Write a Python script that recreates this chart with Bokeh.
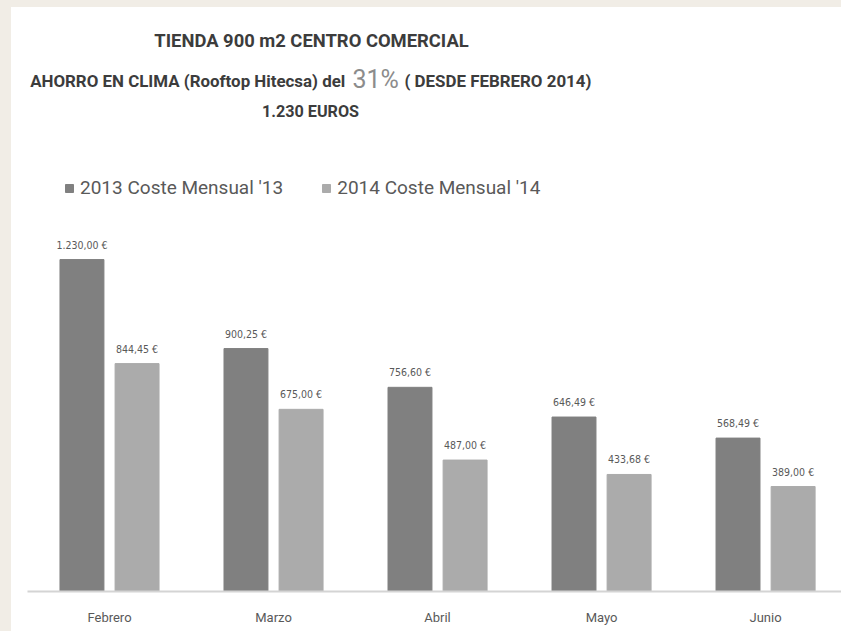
from bokeh.plotting import figure
from bokeh.models import Range1d, FixedTicker, Label, ColumnDataSource, Legend, LegendItem, Spacer
from bokeh.layouts import column, row
from bokeh.transform import dodge
from bokeh.core.properties import value
from bokeh.embed import file_html
from bokeh.resources import INLINE

months = ["Febrero", "Marzo", "Abril", "Mayo", "Junio"]
coste_2013 = [1230.00, 900.25, 756.60, 646.49, 568.49]
coste_2014 = [844.45, 675.00, 487.00, 433.68, 389.00]
series_names = ["2013 Coste Mensual '13", "2014 Coste Mensual '14"]

def eur(v):
    s = f"{v:,.2f}"
    s = s.replace(",", "X").replace(".", ",").replace("X", ".")
    return s + " \u20ac"

idx = list(range(len(months)))
src = ColumnDataSource(dict(
    x=idx, y13=coste_2013, y14=coste_2014,
    l13=[eur(v) for v in coste_2013], l14=[eur(v) for v in coste_2014],
))

FONT = "Roboto"
SMALLFONT = "DejaVu Sans Condensed"
DARK = "#808080"
LIGHT = "#ababab"
TXT = "#595959"
BEIGE = "#f1ede6"

p = figure(width=830, height=624, output_backend="svg", toolbar_location=None,
           x_range=Range1d(-0.5, 4.463), y_range=Range1d(0, 2164),
           y_axis_location=None, min_border_left=16, min_border_right=0,
           min_border_top=0, min_border_bottom=40)
p.outline_line_color = None
p.xgrid.visible = False
p.ygrid.visible = False
p.background_fill_color = "white"
p.border_fill_color = "white"

r13 = p.vbar(x=dodge("x", -0.168, range=p.x_range), top="y13", width=0.268, source=src,
             fill_color=DARK, line_color=DARK)
r14 = p.vbar(x=dodge("x", 0.168, range=p.x_range), top="y14", width=0.268, source=src,
             fill_color=LIGHT, line_color=LIGHT)

for col, ycol, off in (("l13", "y13", -0.168), ("l14", "y14", 0.168)):
    p.text(x=dodge("x", off, range=p.x_range), y=ycol, text=col, source=src,
           text_align="center", text_baseline="middle", y_offset=-15,
           text_font=value(SMALLFONT), text_font_size="10.5px", text_color=TXT)

ax = p.xaxis[0]
ax.ticker = FixedTicker(ticks=idx)
ax.major_label_overrides = {i: m for i, m in zip(idx, months)}
ax.major_tick_line_color = None
ax.minor_tick_line_color = None
ax.axis_line_color = "#d4d4d4"
ax.axis_line_width = 2
ax.major_label_standoff = 12
ax.major_label_text_font = FONT
ax.major_label_text_font_size = "13px"
ax.major_label_text_color = TXT

legend = Legend(items=[LegendItem(label=series_names[0], renderers=[r13]),
                       LegendItem(label=series_names[1], renderers=[r14])],
                orientation="horizontal", location=(37, 392),
                glyph_width=10, glyph_height=10, label_standoff=6, spacing=38,
                padding=0, margin=0, border_line_color=None, background_fill_alpha=0,
                label_text_font=FONT, label_text_font_size="19px", label_text_color=TXT)
p.add_layout(legend, "center")

TITLE = "#3c3c3c"
def lab(text, x, y, size, align="center", bold=True, color=TITLE):
    p.add_layout(Label(x=x, y=y, x_units="screen", y_units="screen", text=text,
                       text_font=FONT, text_font_size=size,
                       text_font_style="bold" if bold else "normal",
                       text_color=color, text_align=align, text_baseline="middle"))

# screen positions relative to the plot frame's bottom-left corner
lab("TIENDA 900 m2 CENTRO COMERCIAL", 284, 551, "18.4px")
lab("AHORRO EN CLIMA (Rooftop Hitecsa) del ", 322, 511, "16.9px", align="right")
lab("31%", 325, 512, "25px", align="left", bold=False, color="#8c8c8c")
lab("( DESDE FEBRERO 2014)", 377, 511, "16.9px", align="left")
lab("1.230 EUROS", 283, 480, "16.2px")

top_strip = Spacer(width=841, height=7, styles={"background-color": BEIGE})
left_strip = Spacer(width=11, height=624, styles={"background-color": BEIGE})
layout = column(top_strip, row(left_strip, p, spacing=0), spacing=0)

open("out.html", "w").write(file_html(layout, INLINE))
